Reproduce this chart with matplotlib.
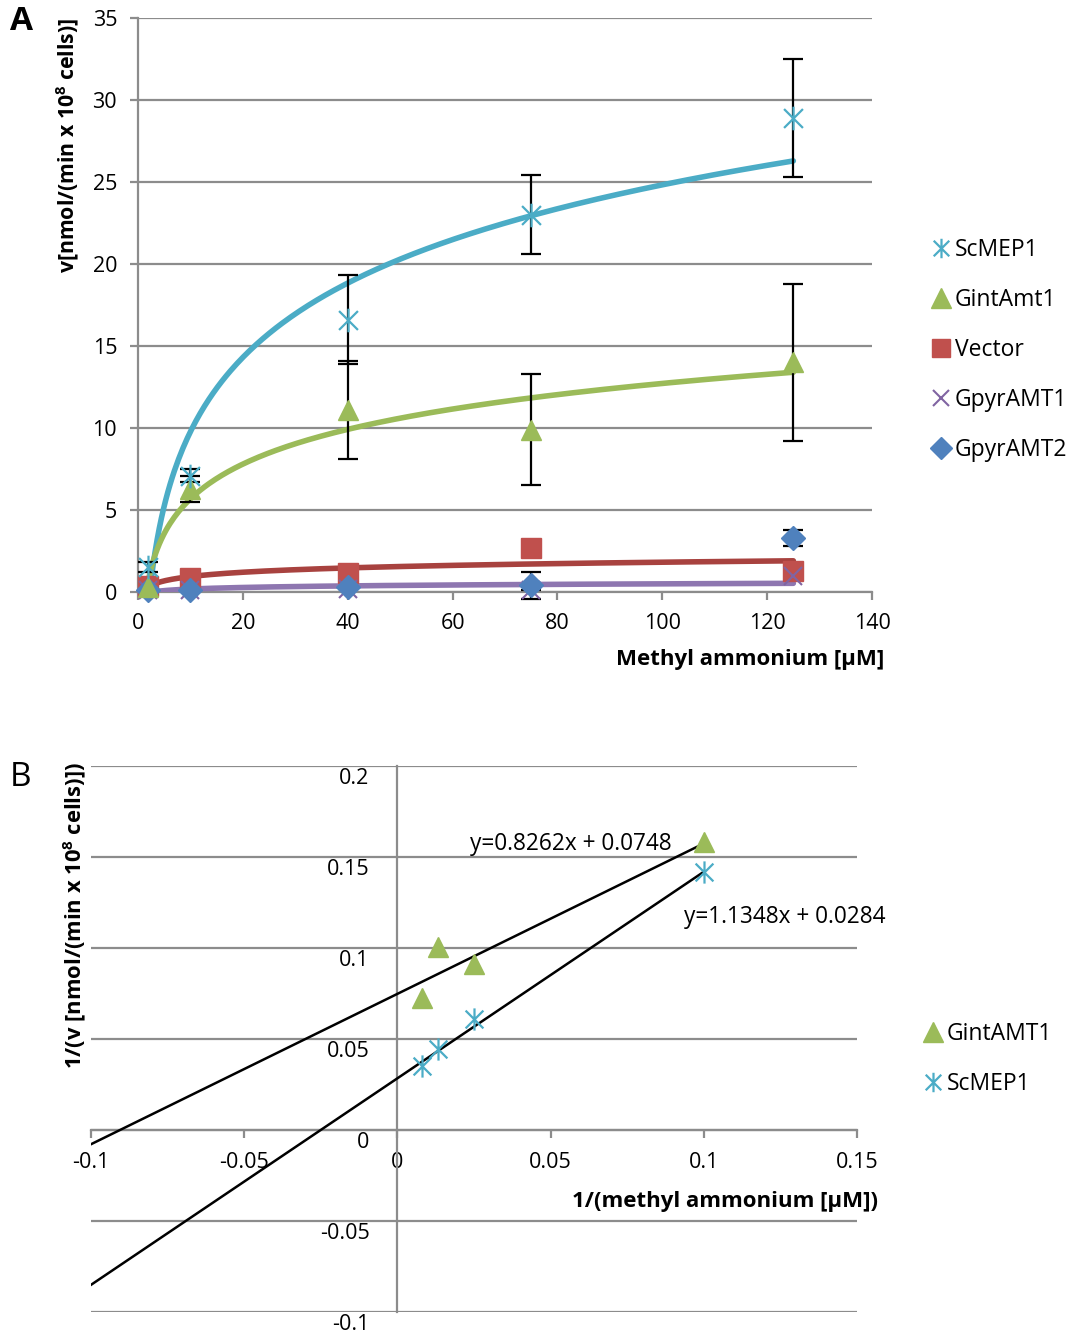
import numpy as np
import matplotlib
matplotlib.use("Agg")
import matplotlib.pyplot as plt
import matplotlib.transforms as mtransforms
from matplotlib.path import Path
from matplotlib.lines import Line2D

plt.rcParams['font.family'] = ['Open Sans', 'DejaVu Sans']
plt.rcParams['mathtext.fontset'] = 'custom'
plt.rcParams['mathtext.rm'] = 'Open Sans'
plt.rcParams['mathtext.bf'] = 'Open Sans:bold'
plt.rcParams['axes.unicode_minus'] = False

# ---- panel A data: uptake rate vs methyl ammonium ----
conc = [2, 10, 40, 75, 125]
scmep1 = [1.5, 7.1, 16.6, 23.0, 28.9]
scmep1_err = [0.3, 0.4, 2.7, 2.4, 3.6]
gintamt1 = [0.3, 6.3, 11.1, 9.9, 14.0]
gintamt1_err = [0.0, 0.8, 3.0, 3.4, 4.8]
vector = [0.35, 0.85, 1.15, 2.7, 1.3]
vector_err = [0.0, 0.0, 0.0, 0.0, 0.0]
gpyramt1 = [0.1, 0.1, 0.2, 0.1, 1.0]
gpyramt1_err = [0.0, 0.0, 0.0, 0.0, 0.0]
gpyramt2 = [0.1, 0.1, 0.3, 0.4, 3.3]
gpyramt2_err = [0.0, 0.0, 0.0, 0.8, 0.5]

# ---- panel B data: Lineweaver-Burk ----
inv_conc = [0.1, 0.025, 0.0133, 0.008]
inv_gint = [0.158, 0.091, 0.1005, 0.0725]
inv_scmep = [0.142, 0.061, 0.0445, 0.0352]
gint_fit = (0.8262, 0.0748)
scmep_fit = (1.1348, 0.0284)

C_STAR = '#4BACC6'
C_TRI = '#9BBB59'
C_SQ = '#C0504D'
C_X = '#8064A2'
C_DIA = '#4F81BD'
GRAY = '#8c8c8c'

star = Path([(0, -1), (0, 1), (-0.8, -0.8), (0.8, 0.8), (-0.8, 0.8), (0.8, -0.8)],
            [Path.MOVETO, Path.LINETO, Path.MOVETO, Path.LINETO, Path.MOVETO, Path.LINETO])

W, H = 1069, 1333
fig = plt.figure(figsize=(W / 100, H / 100), dpi=100)

# ================= panel A =================
axA = fig.add_axes([138 / W, 1 - 592 / H, 734 / W, 574 / H])
axA.set_xlim(0, 140)
axA.set_ylim(0, 35)
axA.set_xticks(range(0, 141, 20))
axA.set_yticks(range(0, 36, 5))
axA.yaxis.grid(True, color=GRAY, lw=1.6)
axA.set_axisbelow(True)
for s in ['top', 'right']:
    axA.spines[s].set_visible(False)
for s in ['left', 'bottom']:
    axA.spines[s].set_color(GRAY)
    axA.spines[s].set_linewidth(1.6)
axA.tick_params(direction='out', length=6, width=1.6, color=GRAY, labelsize=15.5, pad=9)

# logarithmic trendlines fitted to the data
xs = np.linspace(min(conc), max(conc), 300)
for ys, col in [(scmep1, C_STAR), (gintamt1, C_TRI), (vector, '#A8423F'), (gpyramt1, '#8E76B0')]:
    a, b = np.polyfit(np.log(conc), ys, 1)
    axA.plot(xs, a * np.log(xs) + b, color=col, lw=4, solid_capstyle='round', zorder=3)

ekw = dict(ls='none', ecolor='black', elinewidth=1.6, capsize=7, capthick=1.6, clip_on=False, zorder=4)
axA.errorbar(conc, vector, yerr=vector_err, marker='s', ms=15, mfc=C_SQ, mec=C_SQ, **ekw)
axA.errorbar(conc, gpyramt1, yerr=gpyramt1_err, marker='x', ms=13, mec=C_X, mew=1.5, **ekw)
axA.errorbar(conc, gpyramt2, yerr=gpyramt2_err, marker='D', ms=12, mfc=C_DIA, mec=C_DIA, **ekw)
axA.errorbar(conc, gintamt1, yerr=gintamt1_err, marker='^', ms=15, mfc=C_TRI, mec=C_TRI, **ekw)
axA.errorbar(conc, scmep1, yerr=scmep1_err, marker=star, ms=17, mfc='none', mec=C_STAR, mew=1.6, **ekw)

fig.text(884 / W, 1 - 660 / H, 'Methyl ammonium [µM]', ha='right', va='center',
         fontsize=16, fontweight='bold')
fig.text(68 / W, 1 - 145 / H, r'v[nmol/(min x 10$^\mathbf{8}$ cells)]', rotation=90,
         ha='center', va='center', fontsize=15.3, fontweight='bold')
fig.text(10 / W, 1 - 22 / H, 'A', ha='left', va='center', fontsize=24, fontweight='bold')

hA = [Line2D([], [], ls='none', marker=star, ms=14, mfc='none', mec=C_STAR, mew=1.6),
      Line2D([], [], ls='none', marker='^', ms=14, mfc=C_TRI, mec=C_TRI),
      Line2D([], [], ls='none', marker='s', ms=13, mfc=C_SQ, mec=C_SQ),
      Line2D([], [], ls='none', marker='x', ms=12, mec=C_X, mew=1.5),
      Line2D([], [], ls='none', marker='D', ms=11, mfc=C_DIA, mec=C_DIA)]
fig.legend(hA, ['ScMEP1', 'GintAmt1', 'Vector', 'GpyrAMT1', 'GpyrAMT2'],
           loc='upper left', bbox_to_anchor=(933 / W, 1 - 238 / H), frameon=False,
           fontsize=16.5, handlelength=0.7, handletextpad=0.25, labelspacing=1.14,
           borderaxespad=0, borderpad=0)

# ================= panel B =================
axB = fig.add_axes([91 / W, 1 - 1312 / H, 766 / W, 546 / H])
axB.set_xlim(-0.1, 0.15)
axB.set_ylim(-0.1, 0.2)
xt = [-0.1, -0.05, 0, 0.05, 0.1, 0.15]
yt = [-0.1, -0.05, 0, 0.05, 0.1, 0.15, 0.2]
axB.set_xticks(xt)
axB.set_xticklabels(['-0.1', '-0.05', '0', '0.05', '0.1', '0.15'])
axB.set_yticks(yt)
axB.set_yticklabels(['-0.1', '-0.05', '0', '0.05', '0.1', '0.15', '0.2'])
axB.yaxis.grid(True, color=GRAY, lw=1.6)
axB.set_axisbelow(True)
for s in ['top', 'right']:
    axB.spines[s].set_visible(False)
for s in ['left', 'bottom']:
    axB.spines[s].set_position(('data', 0))
    axB.spines[s].set_color(GRAY)
    axB.spines[s].set_linewidth(1.6)
axB.tick_params(axis='x', direction='out', length=6, width=1.6, color=GRAY, labelsize=15.5, pad=10)
axB.tick_params(axis='y', length=0, labelsize=15.5, pad=20)
off = mtransforms.ScaledTranslation(0, -10 / 100, fig.dpi_scale_trans)
for lab in axB.get_yticklabels():
    lab.set_transform(lab.get_transform() + off)

xl = np.array([-0.1, 0.1])
axB.plot(xl, gint_fit[0] * xl + gint_fit[1], color='black', lw=1.8, zorder=3)
axB.plot(xl, scmep_fit[0] * xl + scmep_fit[1], color='black', lw=1.8, zorder=3)
axB.plot(inv_conc, inv_gint, ls='none', marker='^', ms=15, mfc=C_TRI, mec=C_TRI, zorder=4)
axB.plot(inv_conc, inv_scmep, ls='none', marker=star, ms=16, mfc='none', mec=C_STAR, mew=1.6, zorder=4)

axB.text(0.0565, 0.157, 'y=0.8262x + 0.0748', ha='center', va='center', fontsize=16.3)
axB.text(0.1265, 0.117, 'y=1.1348x + 0.0284', ha='center', va='center', fontsize=16.3)

fig.text(878 / W, 1 - 1202 / H, '1/(methyl ammonium [µM])', ha='right', va='center',
         fontsize=16, fontweight='bold')
fig.text(75 / W, 1 - 916 / H, r'1/(v [nmol/(min x 10$^\mathbf{8}$ cells)])', rotation=90,
         ha='center', va='center', fontsize=15.8, fontweight='bold')
fig.text(10 / W, 1 - 778 / H, 'B', ha='left', va='center', fontsize=24)

hB = [Line2D([], [], ls='none', marker='^', ms=14, mfc=C_TRI, mec=C_TRI),
      Line2D([], [], ls='none', marker=star, ms=14, mfc='none', mec=C_STAR, mew=1.6)]
fig.legend(hB, ['GintAMT1', 'ScMEP1'], loc='upper left', bbox_to_anchor=(925 / W, 1 - 1022 / H),
           frameon=False, fontsize=16.5, handlelength=0.7, handletextpad=0.25, labelspacing=1.14,
           borderaxespad=0, borderpad=0)

fig.savefig('out.png', dpi=100)
